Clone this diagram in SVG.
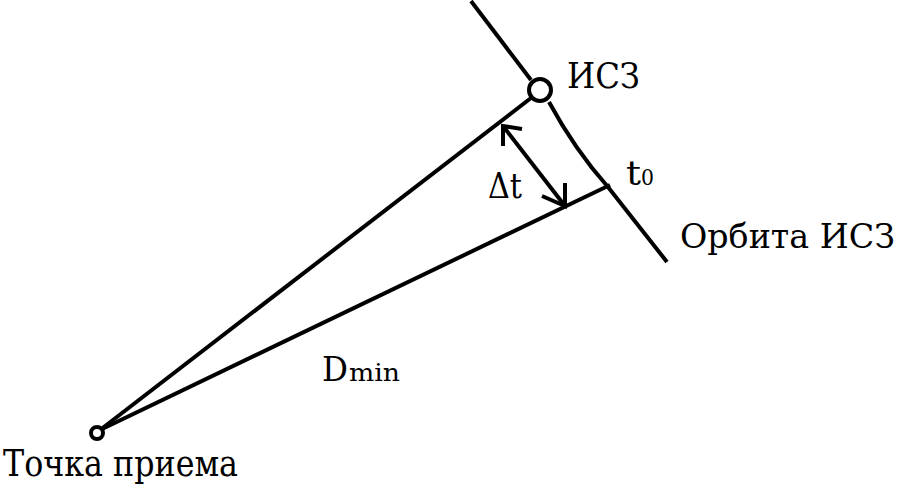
<svg xmlns="http://www.w3.org/2000/svg" width="901" height="495" viewBox="0 0 901 495">
<style>
.ln{fill:none;stroke:#000;stroke-width:4;stroke-linecap:butt;stroke-linejoin:miter}
text{font-family:'DejaVu Serif','Liberation Serif',serif;fill:#000}
</style>
<rect width="901" height="495" fill="#fff"/>
<g id="connectors">
<path class="ln" d="M471,1 L531,80"/>
<path class="ln" d="M549,102 Q575,150 608,187 L667,262"/>
<path class="ln" d="M100,430 L531,98"/>
<path class="ln" d="M100,430 L610,185"/>
<path class="ln" d="M503,126 L565,206"/>
<path class="ln" d="M503,146 L503,126 L522,129"/>
<path class="ln" d="M565,183 L565,206 L542,196"/>
</g>
<g id="satellite">
<circle cx="540" cy="90" r="11" fill="#fff" stroke="#000" stroke-width="4"/>
<text x="567" y="88" font-size="36" textLength="73" lengthAdjust="spacingAndGlyphs">ИСЗ</text>
</g>
<g id="receiver">
<circle cx="97" cy="433" r="6" fill="#fff" stroke="#000" stroke-width="4"/>
<text x="3" y="476" font-size="37" textLength="235" lengthAdjust="spacingAndGlyphs">Точка приема</text>
</g>
<g id="orbit-label">
<text x="680" y="248" font-size="33" textLength="215" lengthAdjust="spacingAndGlyphs">Орбита ИСЗ</text>
</g>
<g id="t0-label">
<text x="626" y="185" font-size="33" textLength="15" lengthAdjust="spacingAndGlyphs">t</text>
<text x="641" y="185" font-size="22" textLength="13" lengthAdjust="spacingAndGlyphs">0</text>
</g>
<g id="dt-label">
<text x="488" y="198" font-size="36" textLength="34" lengthAdjust="spacingAndGlyphs">Δt</text>
</g>
<g id="dmin-label">
<text x="322" y="381" font-size="33" textLength="26" lengthAdjust="spacingAndGlyphs">D</text>
<text x="349" y="381" font-size="24" textLength="51" lengthAdjust="spacingAndGlyphs">min</text>
</g>
</svg>
